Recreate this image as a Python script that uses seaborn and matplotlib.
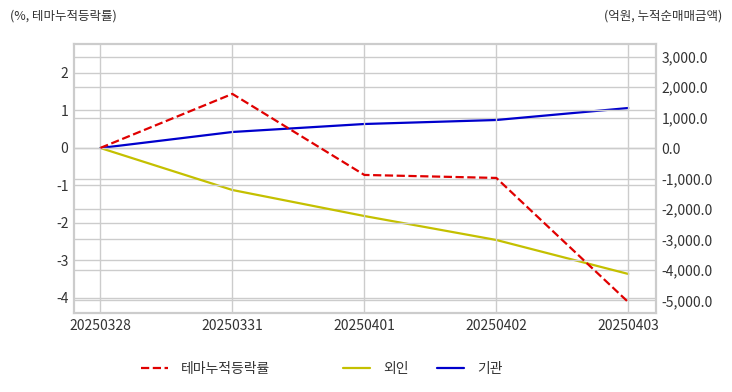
import pandas as pd
import seaborn as sns
import matplotlib.pyplot as plt
from matplotlib.ticker import FuncFormatter

dates = ["20250328", "20250331", "20250401", "20250402", "20250403"]
theme_rate = [0.0, 1.44, -0.72, -0.80, -4.11]
foreign = [0.0, -1377.0, -2230.0, -3016.0, -4130.0]
institution = [0.0, 525.0, 787.0, 918.0, 1311.0]

sns.set_theme(style="white")
plt.rcParams['font.family'] = ['Noto Sans CJK KR', 'DejaVu Sans']
plt.rcParams['axes.unicode_minus'] = False

df = pd.DataFrame({"x": range(len(dates)), "date": dates, "theme": theme_rate,
                   "foreign": foreign, "inst": institution})

fig = plt.figure(figsize=(7.32, 3.92), dpi=100)
ax = fig.add_axes([74 / 732, 1 - 313 / 392, (656 - 74) / 732, (313 - 44) / 392])
ax2 = ax.twinx()

grid_c = "#cccccc"
txt_c = "#333333"

sns.lineplot(data=df, x="x", y="theme", ax=ax, color="#e00000", linestyle="--",
             linewidth=1.6, label="테마누적등락률", legend=False, zorder=5)
sns.lineplot(data=df, x="x", y="foreign", ax=ax2, color="#c4c000",
             linewidth=1.6, label="외인", legend=False)
sns.lineplot(data=df, x="x", y="inst", ax=ax2, color="#0000cc",
             linewidth=1.6, label="기관", legend=False)

ax.set_xlim(-0.2, 4.21)
ax.set_ylim(-4.4, 2.77)
ax2.set_ylim(-5410, 3410)
ax.set_yticks([2, 1, 0, -1, -2, -3, -4])
ax2.set_yticks([3000, 2000, 1000, 0, -1000, -2000, -3000, -4000, -5000])
ax2.yaxis.set_major_formatter(FuncFormatter(lambda v, p: f"{v:,.1f}"))
ax.set_xticks(range(len(dates)))
ax.set_xticklabels(dates)

ax.set_xlabel("")
ax.set_ylabel("")
ax2.set_ylabel("")

ax.grid(True, axis="both", color=grid_c, linewidth=1)
ax2.grid(True, axis="y", color=grid_c, linewidth=1)
ax.set_axisbelow(True)
ax2.set_zorder(0)
ax.set_zorder(1)
ax.patch.set_visible(False)

for a in (ax, ax2):
    for s in a.spines.values():
        s.set_color(grid_c)
        s.set_linewidth(1.5)
    a.tick_params(length=0, labelsize=10, colors=txt_c, pad=4)

fig.text(10 / 732, 1 - 16 / 392, "(%, 테마누적등락률)", fontsize=9, color=txt_c, va="center")
fig.text(722 / 732, 1 - 16 / 392, "(억원, 누적순매매금액)", fontsize=9, color=txt_c,
         va="center", ha="right")

# legend entries placed one by one like the reference
h1, l1 = ax.get_legend_handles_labels()
h2, l2 = ax2.get_legend_handles_labels()
handles = h1 + h2
labels = l1 + l2
lefts = [128, 330, 424]
for h, l, x0 in zip(handles, labels, lefts):
    fig.legend([h], [l], loc="center left", bbox_to_anchor=(x0 / 732, 1 - 369 / 392),
               frameon=False, fontsize=10, handlelength=2.0, handletextpad=0.9,
               labelcolor=txt_c)

fig.savefig("out.png", dpi=100)
